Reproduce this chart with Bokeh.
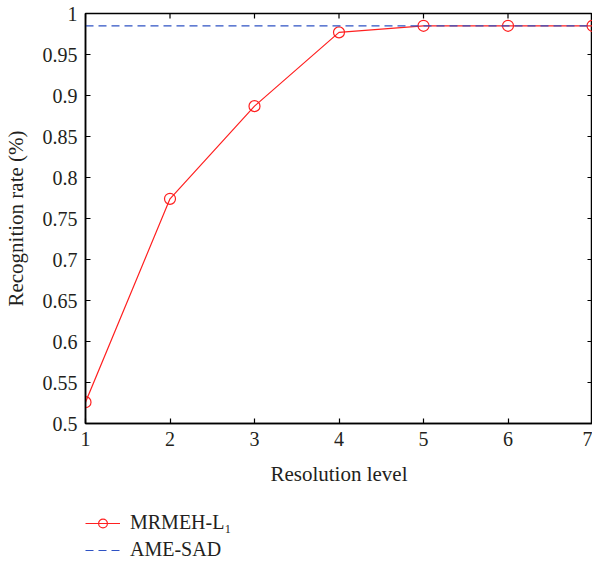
import math
from bokeh.plotting import figure
from bokeh.layouts import column
from bokeh.models import FixedTicker, Legend, LegendItem, Range1d
from bokeh.embed import file_html
from bokeh.resources import INLINE

levels = [1, 2, 3, 4, 5, 6, 7]
mrmeh = [0.526, 0.774, 0.887, 0.977, 0.985, 0.985, 0.985]
ame_sad = [0.985, 0.985, 0.985, 0.985, 0.985, 0.985, 0.985]
x_ticks = [1, 2, 3, 4, 5, 6, 7]
y_ticks = [0.5, 0.55, 0.6, 0.65, 0.7, 0.75, 0.8, 0.85, 0.9, 0.95, 1.0]
y_tick_labels = ["0.5", "0.55", "0.6", "0.65", "0.7", "0.75", "0.8", "0.85", "0.9", "0.95", "1"]

FONT = "Liberation Serif"
TXT = "#231f20"
RED = "#ff2020"
BLUE = "#2e52c4"
XMIN, XMAX = x_ticks[0], x_ticks[-1]
YMIN, YMAX = y_ticks[0], y_ticks[-1]

p = figure(width=592, height=489, output_backend="svg", toolbar_location=None,
           x_range=Range1d(XMIN, XMAX), y_range=Range1d(YMIN, YMAX),
           x_axis_label="Resolution level", y_axis_label="Recognition rate (%)",
           min_border_left=77, min_border_top=13, min_border_right=0, min_border_bottom=66)
p.grid.visible = False
p.outline_line_color = "black"
p.outline_line_width = 1.5

for ax in (p.xaxis[0], p.yaxis[0]):
    ax.axis_line_color = "black"
    ax.axis_line_width = 1.5
    ax.major_tick_in = 5
    ax.major_tick_out = 0
    ax.major_tick_line_color = "black"
    ax.major_tick_line_width = 1.2
    ax.minor_tick_line_color = None
    ax.major_label_text_font = FONT
    ax.major_label_text_font_size = "20px"
    ax.major_label_text_color = TXT
    ax.axis_label_text_font = FONT
    ax.axis_label_text_font_size = "21px"
    ax.axis_label_text_font_style = "normal"
    ax.axis_label_text_color = TXT

xa = p.xaxis[0]
ya = p.yaxis[0]
xa.ticker = FixedTicker(ticks=x_ticks)
ya.ticker = FixedTicker(ticks=y_ticks)
ya.major_label_overrides = {t: l for t, l in zip(y_ticks, y_tick_labels)}
xa.major_label_standoff = 8
xa.axis_label_standoff = 13
ya.major_label_standoff = 8
ya.axis_label_standoff = 12

# inward ticks on the top and right edges (half of each dash is clipped by the frame)
p.scatter(x_ticks, [YMAX] * len(x_ticks), marker="dash", size=10, angle=math.pi / 2,
          line_color="black", line_width=1.2)
p.scatter([XMAX] * len(y_ticks), y_ticks, marker="dash", size=10,
          line_color="black", line_width=1.2)

r_line = p.line(levels, mrmeh, line_color=RED, line_width=1.2)
r_mark = p.scatter(levels, mrmeh, marker="circle", size=11, line_color=RED,
                   fill_color=None, line_width=1.2)
r_dash = p.line(levels, ame_sad, line_color=BLUE, line_width=1.2, line_dash="8 5")

# legend panel below the chart (its glyphs sit outside its visible range)
lg = figure(width=592, height=72, output_backend="svg", toolbar_location=None,
            x_axis_type=None, y_axis_type=None,
            x_range=Range1d(-20, -19), y_range=Range1d(-20, -19),
            min_border_left=0, min_border_right=0, min_border_top=0, min_border_bottom=0)
lg.grid.visible = False
lg.outline_line_color = None
l_line = lg.line(levels, mrmeh, line_color=RED, line_width=1.2)
l_mark = lg.scatter(levels, mrmeh, marker="circle", size=11, line_color=RED,
                    fill_color=None, line_width=1.2)
l_dash = lg.line(levels, ame_sad, line_color=BLUE, line_width=1.2, line_dash="8 5")

legend = Legend(items=[LegendItem(label="MRMEH-L₁", renderers=[l_line, l_mark]),
                       LegendItem(label="AME-SAD", renderers=[l_dash])],
                location=(0, 0), orientation="vertical")
legend.border_line_color = None
legend.background_fill_alpha = 0
legend.label_text_font = FONT
legend.label_text_font_size = "20px"
legend.label_text_color = TXT
legend.glyph_width = 35
legend.glyph_height = 22
legend.label_height = 22
legend.spacing = 4
legend.padding = 0
legend.margin = 0
legend.label_standoff = 10
lg.add_layout(legend, "center")

layout = column(p, lg, spacing=0)
open("out.html", "w").write(file_html(layout, INLINE))
